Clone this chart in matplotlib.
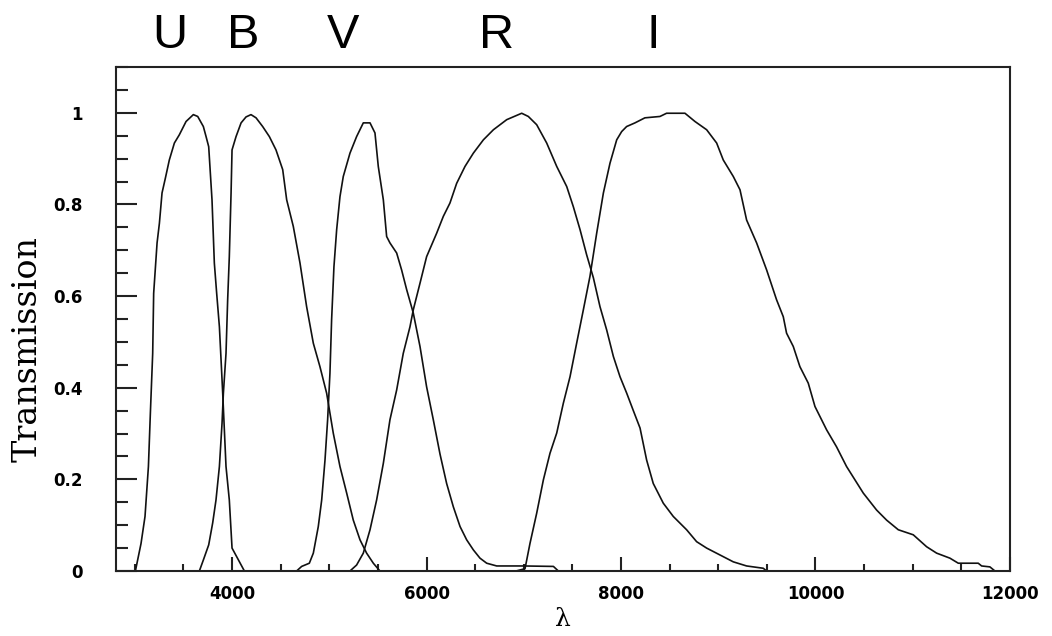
import matplotlib
matplotlib.use("Agg")
import matplotlib.pyplot as plt
from matplotlib.ticker import MultipleLocator, FixedLocator

# Transmission curves (wavelength in Angstrom)
u_wave = [3006, 3064, 3105, 3140, 3160, 3184, 3194, 3229, 3253, 3280, 3314, 3355,
          3407, 3458, 3527, 3602, 3647, 3705, 3733, 3760, 3794, 3818, 3842, 3870,
          3887, 3904, 3938, 3972, 4000, 4127]
u_trans = [0.0, 0.06, 0.119, 0.228, 0.344, 0.475, 0.606, 0.716, 0.759, 0.825, 0.857, 0.897,
           0.934, 0.952, 0.981, 0.996, 0.992, 0.970, 0.948, 0.926, 0.810, 0.672, 0.606, 0.533,
           0.461, 0.388, 0.228, 0.155, 0.05, 0.0]

b_wave = [3664, 3705, 3760, 3801, 3835, 3870, 3897, 3911, 3938, 3955, 3972, 3990,
          4000, 4041, 4093, 4144, 4195, 4247, 4315, 4384, 4452, 4521, 4562, 4630,
          4699, 4767, 4836, 4904, 4973, 5041, 5110, 5179, 5247, 5316, 5384, 5453, 5521]
b_trans = [0.0, 0.024, 0.057, 0.105, 0.155, 0.228, 0.322, 0.388, 0.475, 0.592, 0.686, 0.825,
           0.919, 0.948, 0.978, 0.991, 0.996, 0.989, 0.970, 0.948, 0.919, 0.876, 0.81, 0.752,
           0.672, 0.577, 0.497, 0.446, 0.388, 0.301, 0.228, 0.170, 0.111, 0.068, 0.039, 0.017, 0.0]

v_wave = [4664, 4716, 4795, 4836, 4887, 4922, 4956, 4983, 5007, 5024, 5048, 5076,
          5110, 5144, 5213, 5281, 5350, 5419, 5470, 5504, 5556, 5590, 5624, 5693,
          5744, 5796, 5864, 5933, 6001, 6070, 6139, 6207, 6276, 6345, 6413, 6482,
          6550, 6619, 6722, 6996, 7305, 7356]
v_trans = [0.0, 0.01, 0.017, 0.039, 0.097, 0.155, 0.242, 0.33, 0.432, 0.548, 0.664, 0.745,
           0.817, 0.861, 0.912, 0.948, 0.978, 0.978, 0.956, 0.883, 0.81, 0.73, 0.716, 0.694,
           0.657, 0.614, 0.563, 0.49, 0.402, 0.33, 0.255, 0.191, 0.14, 0.097, 0.068, 0.046,
           0.028, 0.017, 0.011, 0.011, 0.01, 0.0]

r_wave = [5213, 5281, 5350, 5419, 5487, 5556, 5624, 5693, 5761, 5830, 5864, 5933,
          6001, 6104, 6173, 6241, 6310, 6396, 6482, 6585, 6688, 6825, 6979, 7047,
          7133, 7236, 7339, 7442, 7510, 7579, 7647, 7716, 7784, 7853, 7922, 7990,
          8059, 8127, 8196, 8264, 8332, 8435, 8538, 8675, 8778, 8881, 9018, 9155,
          9292, 9463, 9498]
r_trans = [0.0, 0.013, 0.039, 0.09, 0.155, 0.235, 0.33, 0.395, 0.475, 0.533, 0.57, 0.628,
           0.686, 0.737, 0.774, 0.803, 0.846, 0.883, 0.912, 0.941, 0.963, 0.985, 0.999, 0.992,
           0.974, 0.934, 0.883, 0.839, 0.795, 0.745, 0.69, 0.64, 0.577, 0.526, 0.468, 0.424,
           0.388, 0.35, 0.312, 0.242, 0.191, 0.148, 0.119, 0.09, 0.064, 0.05, 0.035, 0.02,
           0.011, 0.006, 0.0]

i_wave = [6920, 7013, 7064, 7133, 7202, 7270, 7339, 7407, 7476, 7544, 7613, 7681,
          7750, 7819, 7887, 7956, 8007, 8058, 8144, 8246, 8401, 8469, 8658, 8761,
          8881, 8984, 9052, 9155, 9224, 9292, 9395, 9498, 9600, 9669, 9703, 9772,
          9840, 9926, 9995, 10115, 10217, 10320, 10406, 10492, 10629, 10732, 10852,
          11006, 11143, 11246, 11383, 11469, 11674, 11709, 11794, 11846]
i_trans = [0.0, 0.005, 0.06, 0.126, 0.199, 0.257, 0.301, 0.366, 0.424, 0.497, 0.57, 0.643,
           0.737, 0.825, 0.89, 0.941, 0.959, 0.97, 0.978, 0.989, 0.992, 0.999, 0.999, 0.981,
           0.963, 0.934, 0.897, 0.861, 0.832, 0.766, 0.716, 0.657, 0.592, 0.555, 0.519, 0.49,
           0.446, 0.41, 0.359, 0.308, 0.271, 0.228, 0.199, 0.17, 0.133, 0.111, 0.09,
           0.079, 0.053, 0.039, 0.028, 0.017, 0.017, 0.011, 0.009, 0.0]

band_names = ["U", "B", "V", "R", "I"]
band_label_x = [3360, 4120, 5140, 6720, 8330]

fig = plt.figure(figsize=(10.52, 6.36), dpi=100)
ax = fig.add_axes([0.1103, 0.1022, 0.8497, 0.7925])

for w, t in [(u_wave, u_trans), (b_wave, b_trans), (v_wave, v_trans),
             (r_wave, r_trans), (i_wave, i_trans)]:
    ax.plot(w, t, color="#111111", lw=1.2)

ax.set_xlim(2807, 12000)
ax.set_ylim(0, 1.1)

ax.xaxis.set_major_locator(FixedLocator([4000, 6000, 8000, 10000, 12000]))
ax.xaxis.set_minor_locator(MultipleLocator(500))
ax.yaxis.set_major_locator(FixedLocator([0, 0.2, 0.4, 0.6, 0.8, 1.0]))
ax.yaxis.set_minor_locator(MultipleLocator(0.05))
ax.set_yticklabels(["0", "0.2", "0.4", "0.6", "0.8", "1"])

ax.tick_params(axis="both", which="both", direction="in", top=False, right=False,
               width=1.5, color="#222222")
ax.tick_params(axis="x", which="major", length=10, pad=10)
ax.tick_params(axis="x", which="minor", length=5)
ax.tick_params(axis="y", which="major", length=15, pad=24)
ax.tick_params(axis="y", which="minor", length=8.5)
for lab in ax.get_xticklabels() + ax.get_yticklabels():
    lab.set_fontfamily("DejaVu Sans")
    lab.set_fontweight("bold")
    lab.set_fontsize(12)

for sp in ax.spines.values():
    sp.set_linewidth(1.5)
    sp.set_color("#222222")

ax.set_ylabel("Transmission", family="DejaVu Serif", fontsize=24)
ax.yaxis.set_label_coords(-0.081, 0.44)
ax.set_xlabel("λ", family="DejaVu Serif", fontsize=18, labelpad=4)

for name, x in zip(band_names, band_label_x):
    ax.text(x, 1.0377, name, transform=ax.get_xaxis_transform(), ha="center",
            va="baseline", family="Liberation Sans", fontsize=35, clip_on=False)

fig.savefig("out.png", dpi=100)
